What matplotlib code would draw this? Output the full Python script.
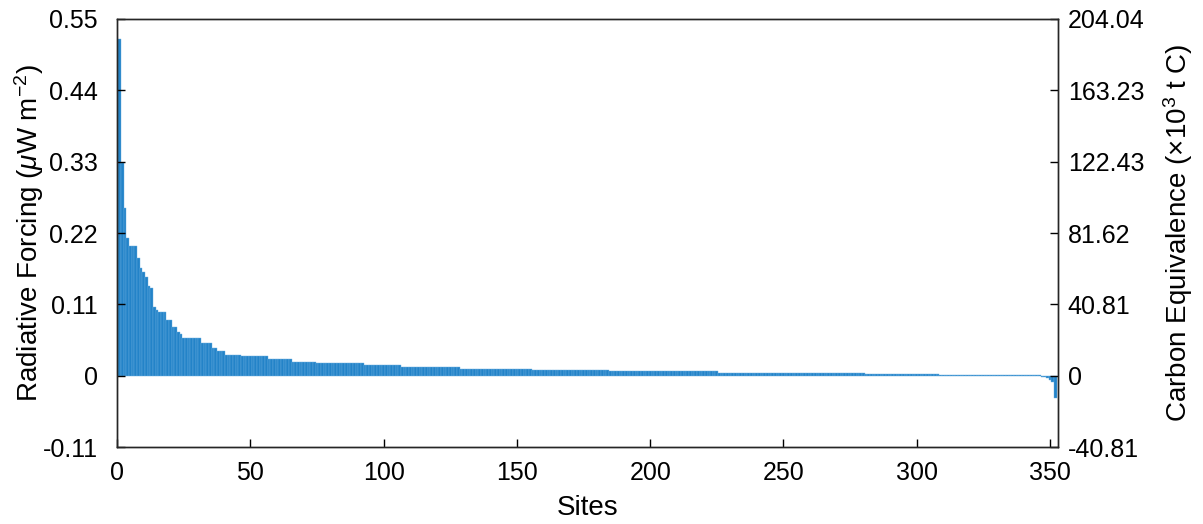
import numpy as np
import matplotlib
matplotlib.use("Agg")
import matplotlib.pyplot as plt

# 사이트별 radiative forcing 값 (그림에서 읽은 값, 값과 반복 횟수)
site_levels = [0.519, 0.328, 0.258, 0.212, 0.200, 0.181, 0.166, 0.160, 0.153,
               0.139, 0.135, 0.106, 0.102, 0.099, 0.086, 0.076, 0.068, 0.064,
               0.058, 0.050, 0.043, 0.039, 0.032, 0.030, 0.026, 0.022, 0.0195,
               0.017, 0.014, 0.011, 0.0088, 0.0068, 0.0048, 0.0038, 0.0028,
               0.0018, -0.002, -0.004, -0.006, -0.009, -0.034]
site_counts = [1, 1, 1, 1, 3, 1, 1, 1, 1,
               1, 1, 1, 1, 3, 2, 2, 1, 1,
               7, 4, 2, 3, 6, 10, 9, 9, 18,
               14, 22, 27, 29, 41, 25, 30, 28,
               38, 2, 1, 1, 1, 1]

left_ticks = [-0.11, 0, 0.11, 0.22, 0.33, 0.44, 0.55]
left_labels = ["-0.11", "0", "0.11", "0.22", "0.33", "0.44", "0.55"]
right_ticks = [-40.81, 0, 40.81, 81.62, 122.43, 163.23, 204.04]
right_labels = ["-40.81", "0", "40.81", "81.62", "122.43", "163.23", "204.04"]
x_ticks = [0, 50, 100, 150, 200, 250, 300, 350]

forcing = np.repeat(site_levels, site_counts)
sites = np.arange(1, len(forcing) + 1)

plt.rcParams["font.family"] = ["Liberation Sans", "DejaVu Sans"]
plt.rcParams["mathtext.fontset"] = "custom"
plt.rcParams["mathtext.rm"] = "Liberation Sans"
plt.rcParams["mathtext.it"] = "Liberation Sans:italic"

axis_color = "#262626"

fig = plt.figure(figsize=(12.03, 5.24), dpi=100)
ax = fig.add_axes([0.0973, 0.1465, 0.7822, 0.8175])

ax.bar(sites, forcing, width=1.0, color="#2383c8",
       edgecolor="#6aaee0", linewidth=0.3)

ax.set_xlim(0, 353)
ax.set_ylim(-0.11, 0.55)
ax.set_xticks(x_ticks)
ax.set_yticks(left_ticks)
ax.set_yticklabels(left_labels)
ax.set_xlabel("Sites", fontsize=20, labelpad=7)
ax.set_ylabel(r"Radiative Forcing ($\mu$W m$^{-2}$)", fontsize=20)
ax.yaxis.set_label_coords(-0.076, 0.5)

# 오른쪽 축: carbon equivalence
ax2 = ax.twinx()
ax2.set_ylim(-40.81, 204.04)
ax2.set_yticks(right_ticks)
ax2.set_yticklabels(right_labels)
ax2.set_ylabel("Carbon Equivalence (×10$^{3}$ t C)", fontsize=20, labelpad=12)

ax.tick_params(axis="y", direction="in", length=6, width=1, labelsize=18, pad=14)
ax.tick_params(axis="x", direction="in", length=6, width=1, labelsize=18, pad=10)
ax2.tick_params(axis="y", direction="in", length=6, width=1, labelsize=18, pad=7)
for a in (ax, ax2):
    for s in a.spines.values():
        s.set_color(axis_color)
        s.set_linewidth(1.0)

fig.savefig("out.png", dpi=100)
